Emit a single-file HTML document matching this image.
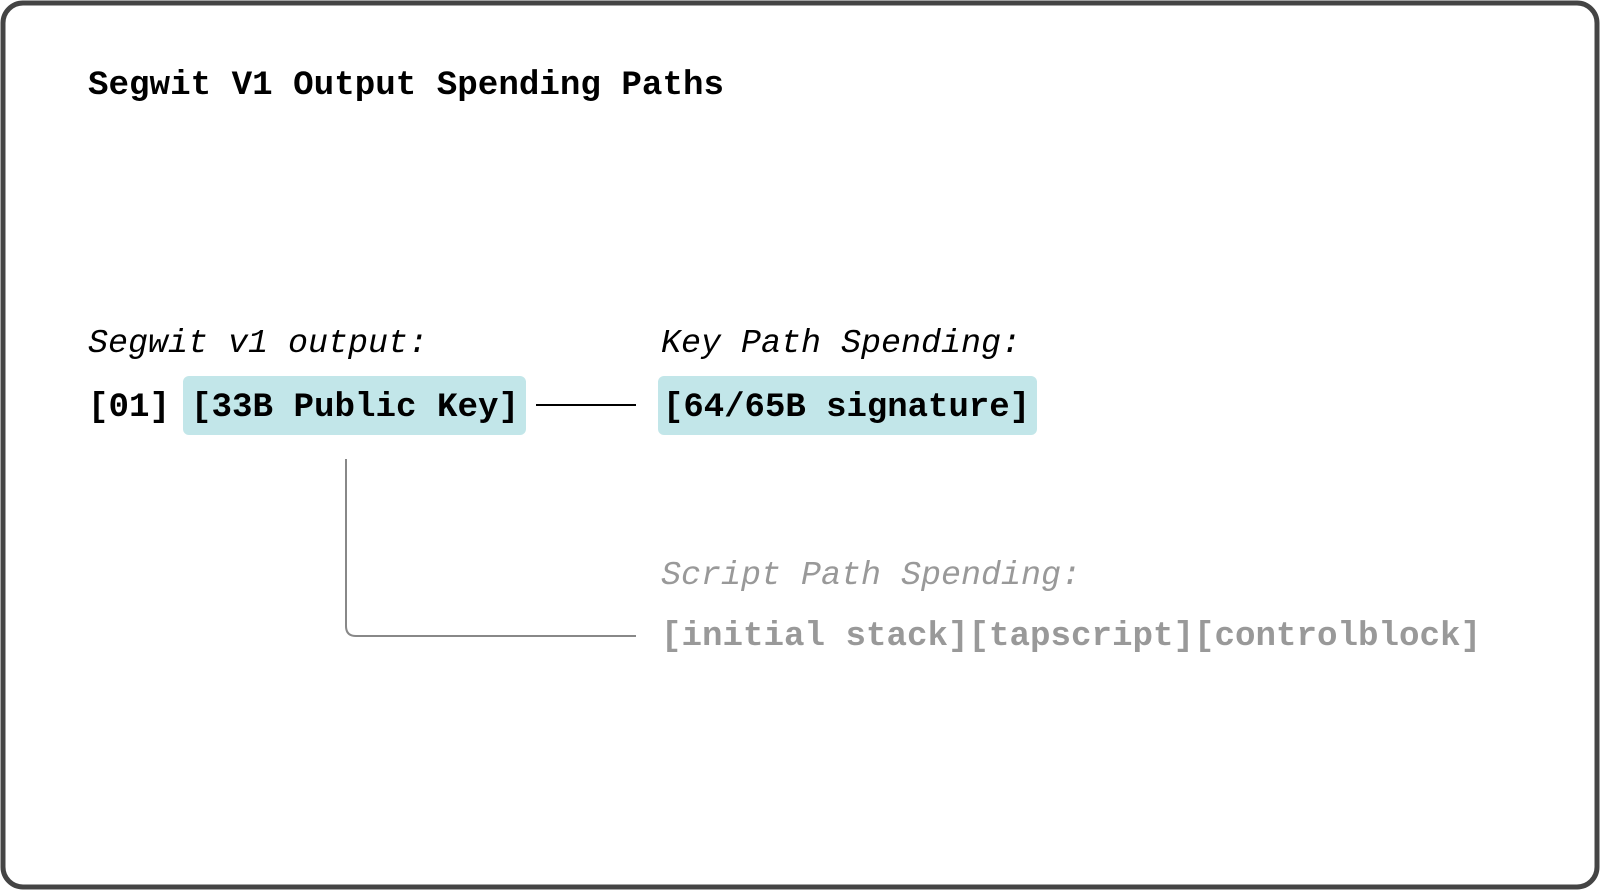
<!DOCTYPE html>
<html><head><meta charset="utf-8"><style>
html,body{margin:0;padding:0;background:#fff;}
svg{display:block}
text{font-family:"Liberation Mono",monospace;}
</style></head><body>
<svg width="1600" height="890" viewBox="0 0 1600 890">
<rect x="3" y="3" width="1594" height="884" rx="20" fill="#fff" stroke="#444" stroke-width="5"/>
<text x="88" y="94" font-size="34" font-weight="bold" fill="#000" textLength="636" lengthAdjust="spacingAndGlyphs">Segwit V1 Output Spending Paths</text>
<text x="88" y="352" font-size="33" font-style="italic" fill="#000" textLength="340" lengthAdjust="spacingAndGlyphs">Segwit v1 output:</text>
<text x="661" y="352" font-size="33" font-style="italic" fill="#000" textLength="360" lengthAdjust="spacingAndGlyphs">Key Path Spending:</text>
<rect x="183" y="376" width="343" height="59" rx="6" fill="#c2e6e9"/>
<rect x="658" y="376" width="379" height="59" rx="6" fill="#c2e6e9"/>
<text x="88" y="416" font-size="34" font-weight="bold" fill="#000" textLength="82" lengthAdjust="spacingAndGlyphs">[01]</text>
<text x="191" y="416" font-size="34" font-weight="bold" fill="#000" textLength="328" lengthAdjust="spacingAndGlyphs">[33B Public Key]</text>
<text x="663" y="416" font-size="34" font-weight="bold" fill="#000" textLength="367" lengthAdjust="spacingAndGlyphs">[64/65B signature]</text>
<line x1="536" y1="405" x2="636" y2="405" stroke="#000" stroke-width="2"/>
<path d="M346 459 V626 Q346 636 356 636 H636" fill="none" stroke="#888" stroke-width="2"/>
<text x="661" y="584" font-size="33" font-style="italic" fill="#999" textLength="420" lengthAdjust="spacingAndGlyphs">Script Path Spending:</text>
<text x="661" y="645" font-size="34" font-weight="bold" fill="#999" textLength="820" lengthAdjust="spacingAndGlyphs">[initial stack][tapscript][controlblock]</text>
</svg>
</body></html>
